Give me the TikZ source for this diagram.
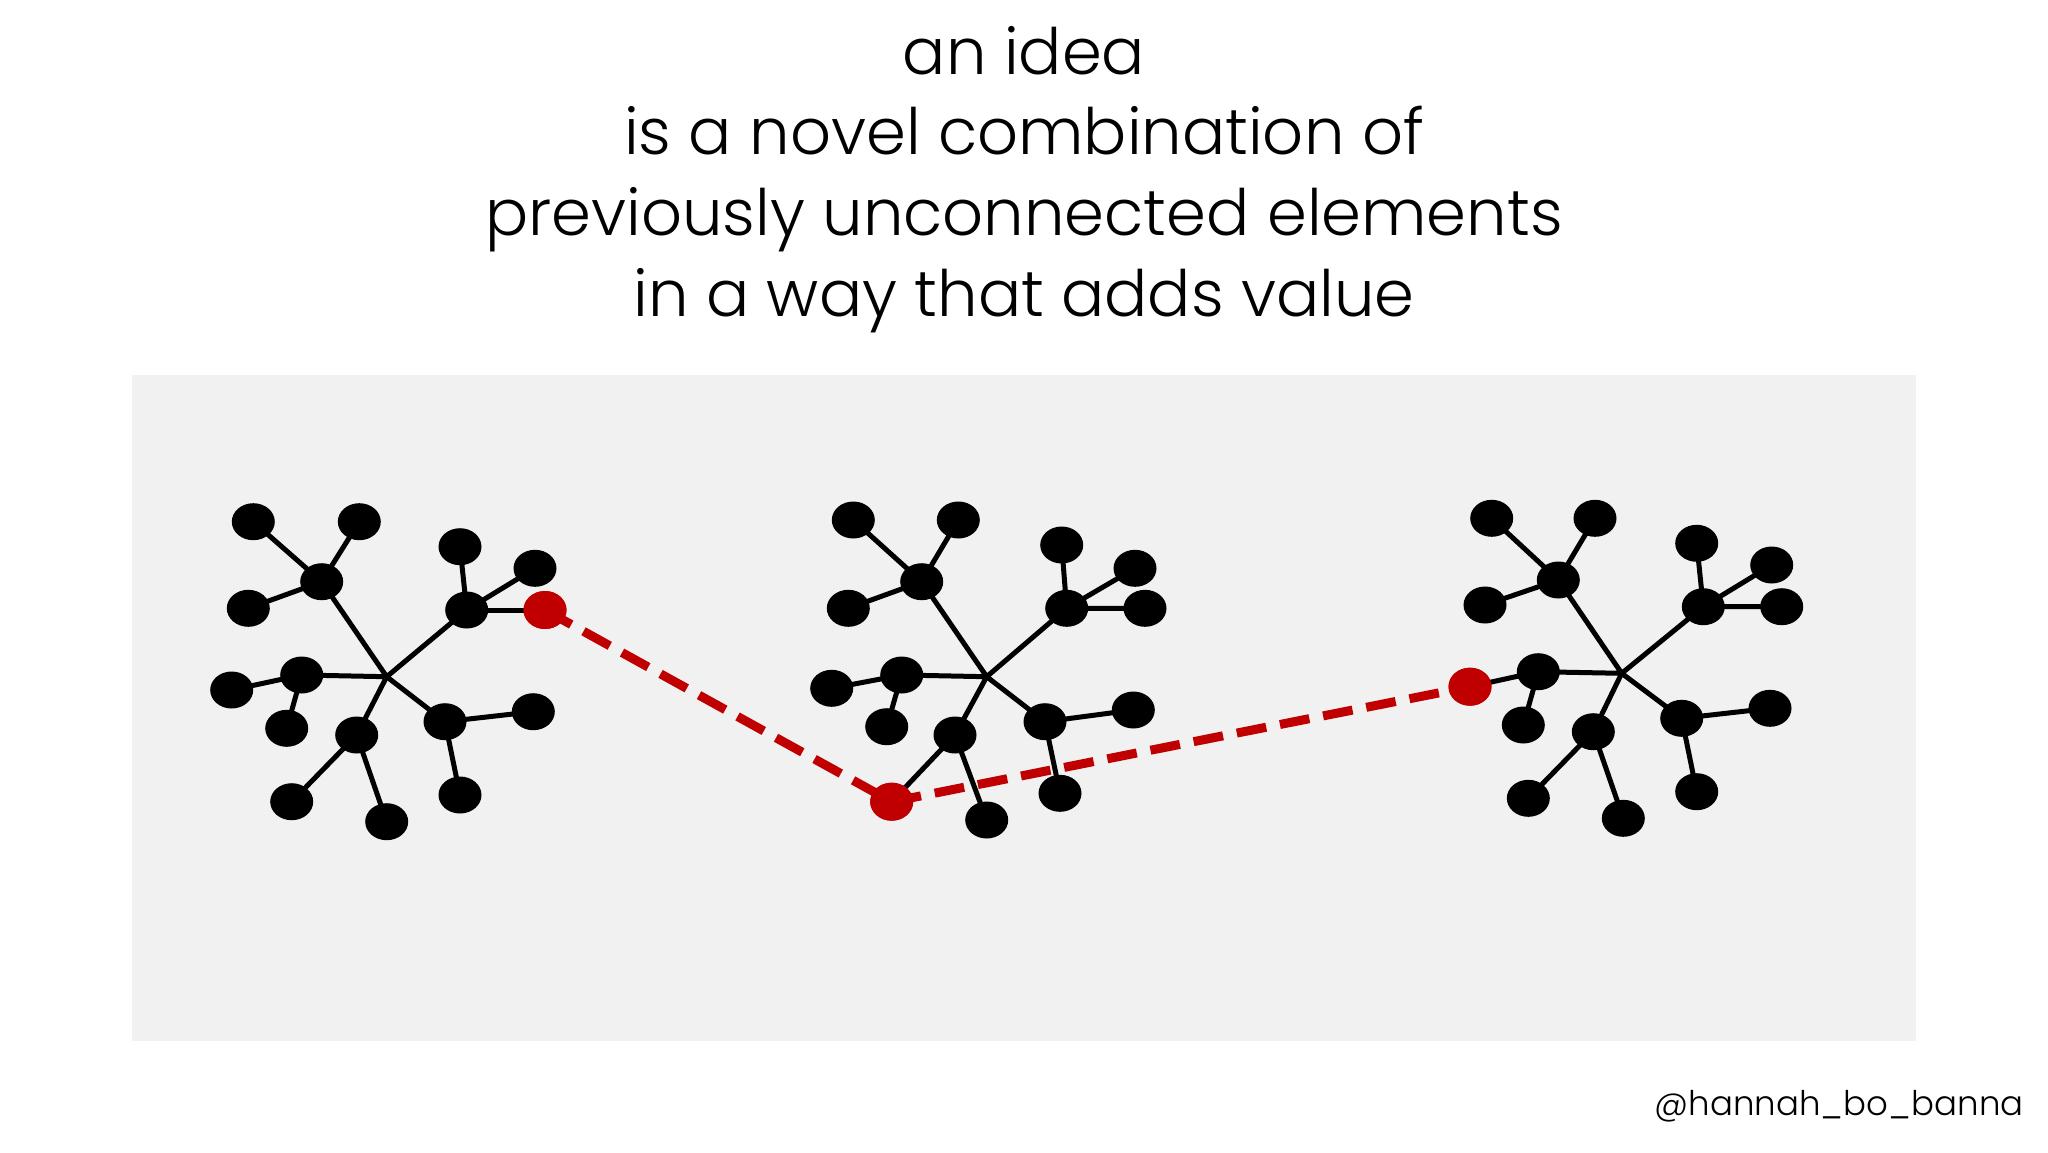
\documentclass[tikz,border=0pt]{standalone}
\usepackage{fontspec}
\IfFontExistsTF{Poppins Light}{\setmainfont{Poppins Light}}{\setmainfont{Lato}}
\usetikzlibrary{shapes.geometric}
\definecolor{bggray}{HTML}{F1F1F1}
\definecolor{ideared}{HTML}{C00000}
\tikzset{
  dot/.style={ellipse, fill=black, minimum width=43pt, minimum height=37pt, inner sep=0pt},
  rdot/.style={ellipse, fill=ideared, minimum width=43pt, minimum height=38pt, inner sep=0pt},
  edge/.style={line width=5pt, black},
  link/.style={line width=9pt, ideared, dash pattern=on 30pt off 14pt},
  title/.style={anchor=base, font=\fontsize{64}{68}\selectfont},
}
\begin{document}
\begin{tikzpicture}[x=1pt,y=-1pt]
\path[use as bounding box, fill=white] (0,0) rectangle (2048,1152);
\fill[bggray] (132,375) rectangle (1916,1041);

\node[title] (t1) at (1024,74) {an idea};
\node[title] (t2) at (1024,154) {is a novel combination of};
\node[title] (t3) at (1024,235) {previously unconnected elements};
\node[title] (t4) at (1024,316) {in a way that adds value};
\node[anchor=base east, font=\fontsize{34}{38}\selectfont] (sig) at (2027,1115) {@hannah\_bo\_banna};

% ---------- tree 1
\coordinate (h1) at (386.7,676.7);
\coordinate (a1) at (321.7,581.7);
\coordinate (b1) at (466.7,610);
\coordinate (c1) at (301.7,675);
\coordinate (d1) at (356.7,735);
\coordinate (e1) at (445,721.7);
\coordinate (a1x) at (253.3,521.7);
\coordinate (a1y) at (359.3,521.7);
\coordinate (a1z) at (248.3,608.3);
\coordinate (b1x) at (460,546.7);
\coordinate (b1y) at (535,568.3);
\coordinate (r1) at (545,610);
\coordinate (c1x) at (231.7,690);
\coordinate (c1y) at (286.7,728.3);
\coordinate (d1x) at (291.7,801.7);
\coordinate (d1y) at (386.7,821.7);
\coordinate (e1x) at (533.3,711.7);
\coordinate (e1y) at (460,795);

% ---------- tree 2
\coordinate (h2) at (986.7,676.7);
\coordinate (a2) at (921.7,581.7);
\coordinate (b2) at (1066.7,608.3);
\coordinate (c2) at (901.7,675);
\coordinate (d2) at (955,735);
\coordinate (e2) at (1045,721.7);
\coordinate (a2x) at (853.3,520);
\coordinate (a2y) at (958.3,520);
\coordinate (a2z) at (848.3,608.3);
\coordinate (b2x) at (1061.7,545);
\coordinate (b2y) at (1135,568.3);
\coordinate (b2z) at (1145,608.3);
\coordinate (c2x) at (831.7,688.3);
\coordinate (c2y) at (886.7,726.7);
\coordinate (r2) at (891.7,801.7);
\coordinate (d2y) at (986.7,820);
\coordinate (e2x) at (1133.3,710);
\coordinate (e2y) at (1060,793.3);

% ---------- tree 3
\coordinate (h3) at (1621.7,673.3);
\coordinate (a3) at (1558.3,580);
\coordinate (b3) at (1703.3,606.7);
\coordinate (c3) at (1538.3,671.7);
\coordinate (d3) at (1593.3,731.7);
\coordinate (e3) at (1681.7,718.3);
\coordinate (a3x) at (1491.7,518.3);
\coordinate (a3y) at (1595,518.3);
\coordinate (a3z) at (1485,605);
\coordinate (b3x) at (1696.7,543.3);
\coordinate (b3y) at (1771.7,565);
\coordinate (b3z) at (1781.7,606.7);
\coordinate (r3) at (1470,686.7);
\coordinate (c3y) at (1523.3,725);
\coordinate (d3x) at (1528.3,798.3);
\coordinate (d3y) at (1623.3,818.3);
\coordinate (e3x) at (1770,708.3);
\coordinate (e3y) at (1696.7,791.7);

% edges
\foreach \t in {1,2,3}{
  \draw[edge] (h\t) -- (a\t) (h\t) -- (b\t) (h\t) -- (c\t) (h\t) -- (d\t) (h\t) -- (e\t);
  \draw[edge] (a\t) -- (a\t x) (a\t) -- (a\t y) (a\t) -- (a\t z);
  \draw[edge] (b\t) -- (b\t x) (b\t) -- (b\t y);
  \draw[edge] (c\t) -- (c\t y);
  \draw[edge] (d\t) -- (d\t y);
  \draw[edge] (e\t) -- (e\t x) (e\t) -- (e\t y);
}
\draw[edge] (b1) -- (r1);
\draw[edge] (c1) -- (c1x) (d1) -- (d1x);
\draw[edge] (b2) -- (b2z) (c2) -- (c2x) (d2) -- (r2);
\draw[edge] (b3) -- (b3z) (c3) -- (r3) (d3) -- (d3x);

% nodes
\foreach \t in {1,2,3}{
  \foreach \n in {a\t,b\t,c\t,d\t,e\t,a\t x,a\t y,a\t z,b\t x,b\t y,c\t y,d\t y,e\t x,e\t y}{
    \node[dot] at (\n) {};
  }
}
\node[dot] (n1) at (c1x) {};
\node[dot] (n2) at (d1x) {};
\node[dot] (n3) at (b2z) {};
\node[dot] (n4) at (c2x) {};
\node[dot] (n5) at (b3z) {};
\node[dot] (n6) at (d3x) {};

% red connection
\node[rdot] (R1) at (r1) {};
\node[rdot] (R2) at (r2) {};
\node[rdot] (R3) at (r3) {};
\draw[link] (R1.center) -- (R2.center) -- (R3.center);
\node[rdot] at (r1) {};
\node[rdot] at (r2) {};
\node[rdot] at (r3) {};
\end{tikzpicture}
\end{document}
